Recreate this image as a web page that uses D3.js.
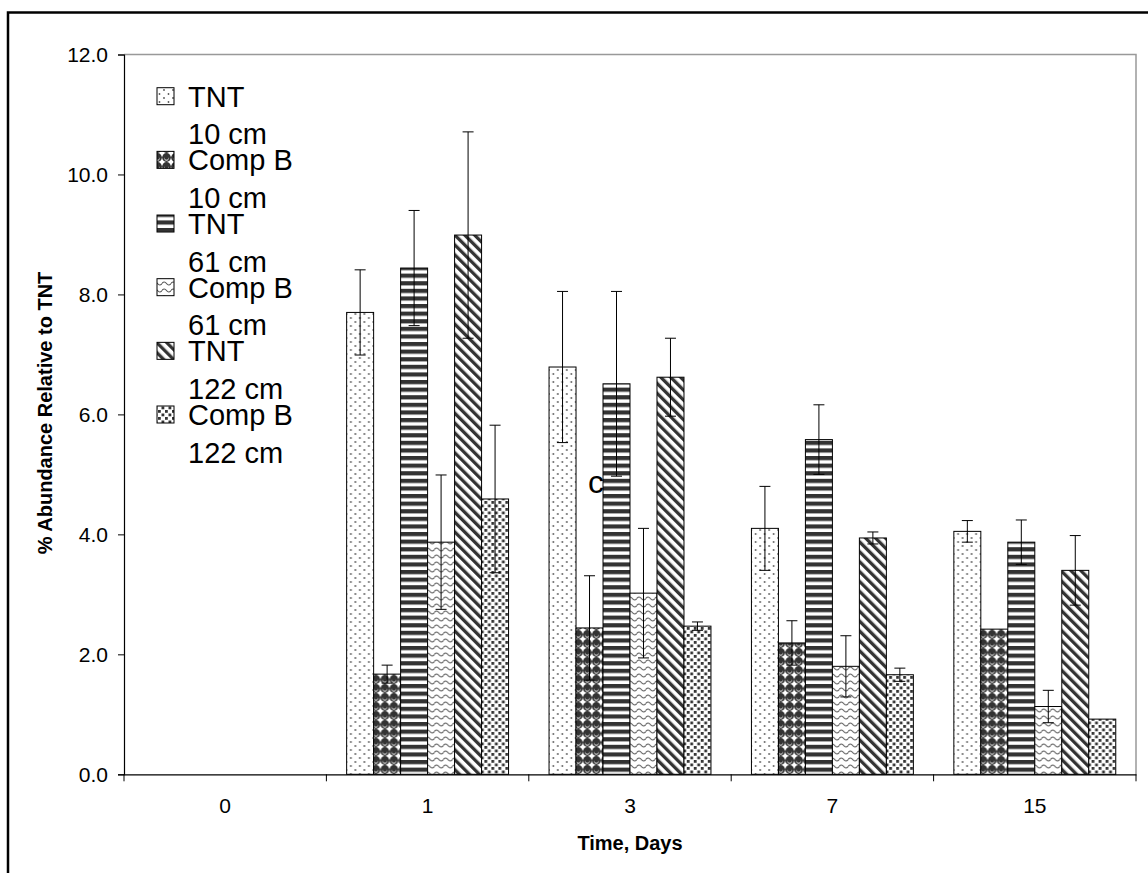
<!DOCTYPE html>
<html>
<head>
<meta charset="utf-8">
<script src="https://cdn.jsdelivr.net/npm/d3@7"></script>
<style>
  html, body { margin: 0; padding: 0; background: #fff; }
  svg { display: block; }
  text { font-family: "Liberation Sans", Arial, sans-serif; fill: #000; }
</style>
</head>
<body>
<svg id="chart" width="1148" height="873"></svg>
<script>
// ---- data ----
const days = ["0", "1", "3", "7", "15"];
const seriesNames = ["TNT\n10 cm", "Comp B\n10 cm", "TNT\n61 cm", "Comp B\n61 cm", "TNT\n122 cm", "Comp B\n122 cm"];
const tnt10      = [0, 7.70, 6.79, 4.10, 4.05];
const tnt10Err   = [0, 0.71, 1.26, 0.70, 0.18];
const compB10    = [0, 1.67, 2.44, 2.19, 2.42];
const compB10Err = [0, 0.15, 0.87, 0.37, 0];
const tnt61      = [0, 8.44, 6.51, 5.58, 3.87];
const tnt61Err   = [0, 0.96, 1.54, 0.58, 0.37];
const compB61    = [0, 3.87, 3.02, 1.80, 1.13];
const compB61Err = [0, 1.12, 1.08, 0.51, 0.27];
const tnt122     = [0, 8.99, 6.62, 3.94, 3.40];
const tnt122Err  = [0, 1.72, 0.65, 0.10, 0.58];
const compB122   = [0, 4.59, 2.47, 1.66, 0.92];
const compB122Err= [0, 1.23, 0.07, 0.11, 0];
const yTicks = [0, 2, 4, 6, 8, 10, 12];
const annotation = "c";

const values = [tnt10, compB10, tnt61, compB61, tnt122, compB122];
const errors = [tnt10Err, compB10Err, tnt61Err, compB61Err, tnt122Err, compB122Err];
const patternIds = ["pDots", "pSpheres", "pHStripes", "pWaves", "pDiag", "pSquares"];

// ---- layout ----
const svg = d3.select("#chart");
const L = 124, R = 1136, T = 54.5, B = 774.3;

const x0 = d3.scaleBand().domain(days).range([L, R]).paddingInner(0).paddingOuter(0);
const bw = x0.bandwidth();
const x1 = d3.scaleBand().domain(d3.range(seriesNames.length)).range([bw * 0.1, bw * 0.9]).padding(0);
const y = d3.scaleLinear().domain([0, 12]).range([B, T]);

// ---- patterns ----
const defs = svg.append("defs");
function pat(id, w, h, extra) {
  const p = defs.append("pattern").attr("id", id).attr("patternUnits", "userSpaceOnUse")
    .attr("width", w).attr("height", h);
  if (extra) p.attr("patternTransform", extra);
  p.append("rect").attr("width", w).attr("height", h).attr("fill", "#fff");
  return p;
}
// dots
let p = pat("pDots", 9, 8);
p.append("circle").attr("cx", 2).attr("cy", 2).attr("r", 0.9).attr("fill", "#555");
p.append("circle").attr("cx", 6.5).attr("cy", 6).attr("r", 0.9).attr("fill", "#555");
// spheres
p = pat("pSpheres", 9, 9);
p.append("circle").attr("cx", 4.5).attr("cy", 4.5).attr("r", 4.4).attr("fill", "#333");
p.append("circle").attr("cx", 4.5).attr("cy", 5.6).attr("r", 2.2).attr("fill", "#eee");
p.append("circle").attr("cx", 4.5).attr("cy", 4.6).attr("r", 2.2).attr("fill", "#333");
// horizontal stripes
p = pat("pHStripes", 8, 7.6);
p.append("rect").attr("y", 0).attr("width", 8).attr("height", 4.2).attr("fill", "#333");
// waves
p = pat("pWaves", 9, 7);
p.append("path").attr("d", "M0,3.5 Q2.25,0.5 4.5,3.5 T9,3.5").attr("stroke", "#555").attr("stroke-width", 1.2).attr("fill", "none");
// diagonal "\" stripes
p = pat("pDiag", 7, 7, "rotate(-45)");
p.append("rect").attr("x", 0).attr("width", 3.3).attr("height", 7).attr("fill", "#333");
// squares
p = pat("pSquares", 7, 7);
p.append("rect").attr("x", 0.5).attr("y", 0.5).attr("width", 2.8).attr("height", 2.8).attr("fill", "#333");
p.append("rect").attr("x", 4).attr("y", 4).attr("width", 2.8).attr("height", 2.8).attr("fill", "#333");

// ---- outer frame ----
svg.append("path").attr("d", "M8,880 L8,12.5 L1160,12.5")
  .attr("fill", "none").attr("stroke", "#000").attr("stroke-width", 2.5);

// ---- plot area border (top, right) ----
svg.append("path").attr("d", `M${L},${T} L${R},${T} L${R},${B}`)
  .attr("fill", "none").attr("stroke", "#999").attr("stroke-width", 1.5);

// ---- bars ----
const groups = svg.append("g").selectAll("g").data(days).join("g")
  .attr("transform", d => `translate(${x0(d)},0)`);

groups.each(function(day, di) {
  const g = d3.select(this);
  values.forEach((arr, si) => {
    const v = arr[di];
    g.append("rect")
      .attr("x", x1(si)).attr("y", y(v))
      .attr("width", x1.bandwidth()).attr("height", y(0) - y(v))
      .attr("fill", `url(#${patternIds[si]})`)
      .attr("stroke", "#000").attr("stroke-width", 1);
  });
});

// ---- error bars ----
groups.each(function(day, di) {
  const g = d3.select(this);
  values.forEach((arr, si) => {
    const v = arr[di], e = errors[si][di];
    if (!e) return;
    const cx = x1(si) + x1.bandwidth() / 2;
    const hi = y(v + e), lo = y(v - e);
    g.append("line").attr("x1", cx).attr("x2", cx).attr("y1", hi).attr("y2", lo)
      .attr("stroke", "#000").attr("stroke-width", 1);
    [hi, lo].forEach(yy => g.append("line").attr("x1", cx - 5.5).attr("x2", cx + 5.5)
      .attr("y1", yy).attr("y2", yy).attr("stroke", "#000").attr("stroke-width", 1));
  });
});

// ---- axes ----
const yAxis = d3.axisLeft(y).tickValues(yTicks).tickFormat(d3.format(".1f")).tickSize(6).tickPadding(10);
const gy = svg.append("g").attr("transform", `translate(${L},0)`).call(yAxis);
gy.select(".domain").attr("stroke", "#000").attr("stroke-width", 1.2);
gy.selectAll(".tick line").attr("stroke", "#000");
gy.selectAll("text").style("font-size", "21px").style("font-family", "Liberation Sans, Arial, sans-serif");

const xAxis = d3.axisBottom(x0).tickSize(0).tickPadding(24);
const gx = svg.append("g").attr("transform", `translate(0,${B})`).call(xAxis);
gx.select(".domain").attr("stroke", "#000").attr("stroke-width", 1.2);
gx.selectAll("text").style("font-size", "21px").style("font-family", "Liberation Sans, Arial, sans-serif");
// category boundary ticks
const bounds = days.map(d => x0(d)).concat([R]);
gx.selectAll(".bound").data(bounds).join("line").attr("class", "bound")
  .attr("x1", d => d).attr("x2", d => d).attr("y1", 0).attr("y2", 7).attr("stroke", "#000");

// ---- axis titles ----
svg.append("text").attr("x", 630).attr("y", 850).attr("text-anchor", "middle")
  .style("font-size", "20px").style("font-weight", "bold").text("Time, Days");
svg.append("text").attr("transform", `translate(52,413) rotate(-90)`)
  .attr("text-anchor", "middle").style("font-size", "20px").style("font-weight", "bold")
  .text("% Abundance Relative to TNT");

// ---- annotation ----
svg.append("text").attr("x", 588).attr("y", 493).style("font-size", "32px").text(annotation);

// ---- legend ----
const leg = svg.append("g");
seriesNames.forEach((name, i) => {
  const base = 106.7 + i * 63.66;
  leg.append("rect").attr("x", 157).attr("y", base - 19).attr("width", 17).attr("height", 17)
    .attr("fill", `url(#${patternIds[i]})`).attr("stroke", "#000").attr("stroke-width", 1);
  name.split("\n").forEach((line, li) => {
    leg.append("text").attr("x", 188).attr("y", base + li * 37.5)
      .style("font-size", "29px").text(line);
  });
});
</script>
</body>
</html>
